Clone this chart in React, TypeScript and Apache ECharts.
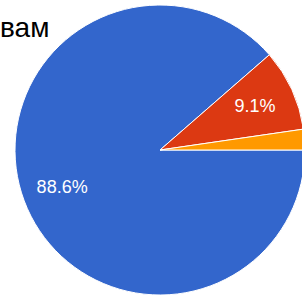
import React, { useEffect, useRef } from "react";
import * as echarts from "echarts";

const categories = ["Вариант 1", "Вариант 2", "Вариант 3"];
const values = [88.6, 9.1, 2.3];
const colors = ["#3366CC", "#DC3912", "#FF9900"];
const shownLabels = [true, true, false];
const titleText = "вам";

export default function App() {
  const ref = useRef<HTMLDivElement>(null);
  useEffect(() => {
    if (!ref.current) return;
    const chart = echarts.init(ref.current, null, { renderer: "svg" });
    const data = categories.map((name, i) => ({
      name,
      value: values[i],
      itemStyle: { color: colors[i] },
    }));
    chart.setOption({
      animation: false,
      backgroundColor: "#ffffff",
      graphic: [
        {
          type: "text",
          x: 0,
          y: 27,
          style: {
            text: titleText,
            textAlign: "left",
            textVerticalAlign: "middle",
            font: '28px "Liberation Sans", Arial, sans-serif',
            fill: "#000000",
          },
        },
      ],
      series: [
        {
          type: "pie",
          center: [160, 150],
          radius: [0, 145],
          startAngle: 0,
          clockwise: true,
          silent: true,
          label: { show: false },
          labelLine: { show: false },
          itemStyle: { borderColor: "#ffffff", borderWidth: 1 },
          emphasis: { disabled: true },
          data,
        },
        {
          type: "pie",
          center: [160, 150],
          radius: [58, 145],
          startAngle: 0,
          clockwise: true,
          silent: true,
          itemStyle: { color: "transparent", borderWidth: 0 },
          emphasis: { disabled: true },
          labelLine: { show: false },
          label: {
            position: "inside",
            color: "#ffffff",
            fontSize: 18,
            fontFamily: '"Liberation Sans", Arial, sans-serif',
            formatter: (p: any) => `${Number(p.value).toFixed(1)}%`,
          },
          data: categories.map((name, i) => ({
            name,
            value: values[i],
            itemStyle: { color: "transparent" },
            label: { show: shownLabels[i] },
          })),
        },
      ],
    });
    return () => chart.dispose();
  }, []);
  return (
    <div
      ref={ref}
      style={{ position: "absolute", left: 0, top: 0, width: 302, height: 298 }}
    />
  );
}
